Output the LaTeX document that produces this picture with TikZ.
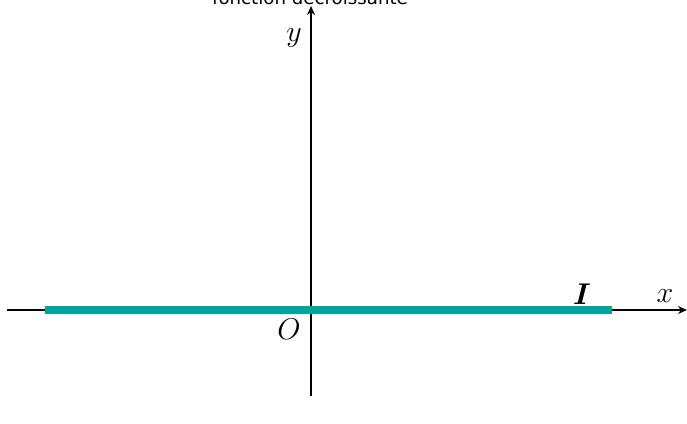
\RequirePackage{fix-cm}
\documentclass[tikz,border=0pt]{standalone}
\usepackage{fontspec}
\usepackage{amsmath}
\newfontfamily\titlefont{DejaVu Sans}
\usetikzlibrary{arrows.meta}
\definecolor{tealI}{RGB}{0,166,153}
\tikzset{
  axis/.style={line width=2pt,-{Stealth[length=9pt,width=8pt]}},
  interval/.style={line width=8pt,tealI},
  mlabel/.style={inner sep=0pt,font=\fontsize{30}{36}\selectfont},
}
\begin{document}
\begin{tikzpicture}[x=1pt,y=-1pt]
\useasboundingbox (0,0) rectangle (687,423);
\coordinate (O) at (311,310);
\coordinate (xl) at (7,310);
\coordinate (xr) at (687,310);
\coordinate (yb) at (311,396);
\coordinate (yt) at (311,6);
\coordinate (il) at (45,310);
\coordinate (ir) at (612,310);
\draw[axis] (xl) -- (xr);
\draw[axis] (yb) -- (yt);
\draw[interval] (il) -- (ir);
\node[anchor=base,inner sep=0pt,font=\titlefont\fontsize{18.2}{20}\selectfont] (title) at (310,5) {fonction décroissante};
\node[mlabel] (ylab) at (294,38) {$y$};
\node[mlabel] (xlab) at (665,296) {$x$};
\node[mlabel] (Ilab) at (582,294) {$\boldsymbol{I}$};
\node[mlabel] (Olab) at (289,329) {$O$};
\end{tikzpicture}
\end{document}
